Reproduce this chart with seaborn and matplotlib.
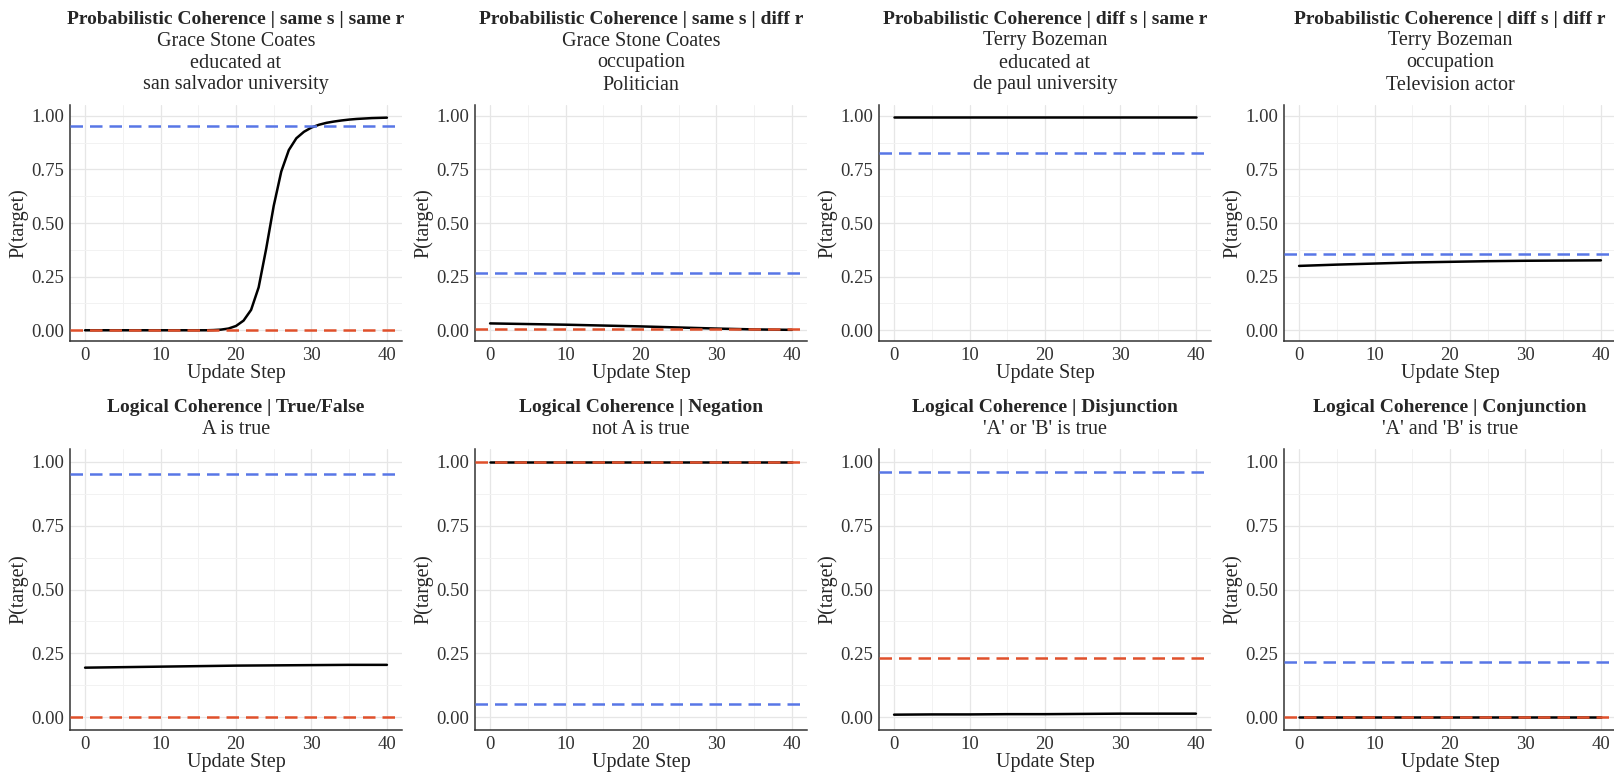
import seaborn as sns
import matplotlib.pyplot as plt
import pandas as pd
from matplotlib.ticker import MultipleLocator

# Data
steps_full = [0, 1, 2, 3, 4, 5, 6, 7, 8, 9, 10, 11, 12, 13, 14, 15, 16, 17, 18, 19, 20,
              21, 22, 23, 24, 25, 26, 27, 28, 29, 30, 31, 32, 33, 34, 35, 36, 37, 38, 39, 40]
steps_coarse = [0, 5, 10, 15, 20, 25, 30, 35, 40]

p_same_s_same_r = [0.0, 0.0, 0.0, 0.0, 0.0, 0.0, 0.0, 0.0, 0.0, 0.0, 0.0,
                   0.0, 0.0, 0.0, 0.0, 0.0, 0.0, 0.001, 0.003, 0.008, 0.02,
                   0.045, 0.095, 0.2, 0.38, 0.58, 0.74, 0.84, 0.895, 0.925, 0.945,
                   0.958, 0.967, 0.973, 0.978, 0.982, 0.985, 0.987, 0.989, 0.99, 0.991]
p_same_s_diff_r = [0.032, 0.029, 0.026, 0.022, 0.018, 0.013, 0.008, 0.004, 0.002]
p_diff_s_same_r = [0.995, 0.995, 0.995, 0.995, 0.995, 0.995, 0.995, 0.995, 0.995]
p_diff_s_diff_r = [0.300, 0.306, 0.311, 0.316, 0.319, 0.322, 0.324, 0.325, 0.326]
p_true_false = [0.194, 0.196, 0.198, 0.200, 0.202, 0.203, 0.204, 0.205, 0.205]
p_negation = [0.999, 0.999, 0.999, 0.999, 0.999, 0.999, 0.999, 0.999, 0.999]
p_disjunction = [0.010, 0.011, 0.011, 0.012, 0.012, 0.013, 0.014, 0.014, 0.014]
p_conjunction = [0.0, 0.0, 0.0, 0.0, 0.0, 0.0, 0.0, 0.0, 0.0]

bold_titles = [
    'Probabilistic Coherence | same s | same r',
    'Probabilistic Coherence | same s | diff r',
    'Probabilistic Coherence | diff s | same r',
    'Probabilistic Coherence | diff s | diff r',
    'Logical Coherence | True/False',
    'Logical Coherence | Negation',
    'Logical Coherence | Disjunction',
    'Logical Coherence | Conjunction',
]
sub_titles = [
    'Grace Stone Coates\neducated at\nsan salvador university',
    'Grace Stone Coates\noccupation\nPolitician',
    'Terry Bozeman\neducated at\nde paul university',
    'Terry Bozeman\noccupation\nTelevision actor',
    'A is true',
    'not A is true',
    "'A' or 'B' is true",
    "'A' and 'B' is true",
]
blue_refs = [0.95, 0.265, 0.825, 0.357, 0.951, 0.051, 0.961, 0.218]
red_refs = [0.0, 0.008, None, None, 0.0, 1.0, 0.230, 0.0]

series = [(steps_full, p_same_s_same_r), (steps_coarse, p_same_s_diff_r),
          (steps_coarse, p_diff_s_same_r), (steps_coarse, p_diff_s_diff_r),
          (steps_coarse, p_true_false), (steps_coarse, p_negation),
          (steps_coarse, p_disjunction), (steps_coarse, p_conjunction)]

BLUE = '#5876E6'
RED = '#E0502B'

sns.set_theme(style='white')
plt.rcParams['font.family'] = ['Liberation Serif', 'DejaVu Serif']

fig = plt.figure(figsize=(16.15, 7.73), dpi=100)

col_left = [70, 475, 879, 1284]
col_w = 332
row_box = [(105, 341), (449, 730)]  # top, bottom in pixels
W, H = 1615, 773

for i in range(8):
    r, c = divmod(i, 4)
    top, bot = row_box[r]
    ax = fig.add_axes([col_left[c] / W, 1 - bot / H, col_w / W, (bot - top) / H])

    x, y = series[i]
    df = pd.DataFrame({'step': x, 'p': y})
    sns.lineplot(data=df, x='step', y='p', ax=ax, color='black', lw=1.8, zorder=3)

    dash = (0, (5, 2.8))
    ax.axhline(blue_refs[i], color=BLUE, lw=1.8, ls=dash, zorder=4)
    if red_refs[i] is not None:
        ax.axhline(red_refs[i], color=RED, lw=1.8, ls=dash, zorder=4)

    ax.set_xlim(-2, 42)
    ax.set_ylim(-0.05, 1.05)
    ax.xaxis.set_major_locator(MultipleLocator(10))
    ax.xaxis.set_minor_locator(MultipleLocator(5))
    ax.yaxis.set_major_locator(MultipleLocator(0.25))
    ax.yaxis.set_minor_locator(MultipleLocator(0.125))
    ax.set_yticklabels([f'{t:.2f}' for t in ax.get_yticks()])
    ax.grid(which='major', color='#E6E6E6', lw=0.9)
    ax.grid(which='minor', color='#F2F2F2', lw=0.7)
    ax.set_axisbelow(True)
    ax.tick_params(which='both', length=0, labelsize=13.5, colors='#333333', pad=4)
    for side in ['top', 'right']:
        ax.spines[side].set_visible(False)
    for side in ['left', 'bottom']:
        ax.spines[side].set_color('#333333')
        ax.spines[side].set_linewidth(1.1)

    ax.set_xlabel('Update Step', fontsize=14.5, labelpad=0)
    ax.set_ylabel('P(target)', fontsize=14.5, labelpad=2)

    # subtitle lines (normal) and bold header line above them
    sub_lines = sub_titles[i].split('\n')
    n = len(sub_lines)
    for k, line in enumerate(reversed(sub_lines)):
        off = (20 + 22 * k) * 72 / 100
        ax.annotate(line, xy=(0.5, 1), xycoords='axes fraction',
                    xytext=(0, off), textcoords='offset points',
                    ha='center', va='center', fontsize=14.5)
    off = (19 + 22 * n) * 72 / 100
    ax.annotate(bold_titles[i], xy=(0.5, 1), xycoords='axes fraction',
                xytext=(0, off), textcoords='offset points',
                ha='center', va='center', fontsize=14, fontweight='bold')

fig.savefig('out.png', dpi=100)
